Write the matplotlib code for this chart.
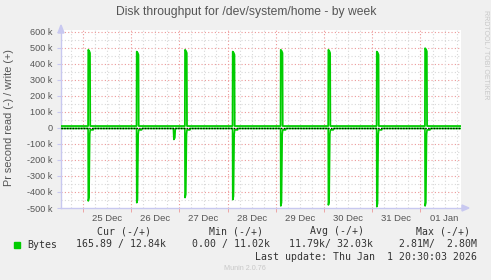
import numpy as np
import matplotlib
matplotlib.use("Agg")
import matplotlib.pyplot as plt
from matplotlib.patches import Polygon, Rectangle

plt.rcParams["font.family"] = ["Liberation Sans", "DejaVu Sans"]

# days counted from 24 Dec 00:00, values in k bytes/s
day_ticks = [1.5, 2.5, 3.5, 4.5, 5.5, 6.5, 7.5, 8.5]
day_labels = ["25 Dec", "26 Dec", "27 Dec", "28 Dec", "29 Dec", "30 Dec", "31 Dec", "01 Jan"]
y_ticks = [-500, -400, -300, -200, -100, 0, 100, 200, 300, 400, 500, 600]
y_labels = ["-500 k", "-400 k", "-300 k", "-200 k", "-100 k", "0",
            "100 k", "200 k", "300 k", "400 k", "500 k", "600 k"]

# nightly backup spikes
spike_t = [1.110, 2.115, 3.117, 4.106, 5.102, 6.090, 7.094, 8.096]
write_peak = [488, 477, 488, 477, 488, 488, 477, 498]
read_peak = [456, 467, 435, 448, 487, 481, 492, 487]
write_base = 12
read_base = 3
read_after = 12
blip_t = [2.885]
blip_v = [72]

legend_rows = [
    ("Cur (-/+)", "165.89 / 12.84k"),
    ("Min (-/+)", "0.00 / 11.02k"),
    ("Avg (-/+)", "11.79k/ 32.03k"),
    ("Max (-/+)", "2.81M/  2.80M"),
]

x0, x1 = 0.544, 8.84
green = "#00CC00"

# build the two lines
wt, wv = [x0], [write_base]
rt, rv = [x0], [read_base]
spikes = sorted(list(zip(spike_t, write_peak, read_peak)) + [(t, None, v) for t, v in zip(blip_t, blip_v)])
for t, wp, rp in spikes:
    if wp is not None:
        wt += [t - 0.004, t, t + 0.02, t + 0.035, t + 0.04]
        wv += [write_base, wp, wp - 8, wp - 20, write_base]
        rt += [t - 0.004, t, t + 0.015, t + 0.03, t + 0.04, t + 0.1, t + 0.11]
        rv += [read_base, rp, rp - 20, 40, read_after, read_after, read_base]
    else:
        rt += [t - 0.01, t, t + 0.02, t + 0.03]
        rv += [read_base, rp, rp - 10, read_base]
wt.append(x1); wv.append(write_base)
rt.append(x1); rv.append(read_base)

W, H = 491, 280
fig = plt.figure(figsize=(W / 100, H / 100), dpi=100, facecolor="#F0F0F0")
ax = fig.add_axes([61 / W, 1 - 208 / H, 400 / W, 178 / H])
ax.set_facecolor("white")
ax.set_xlim(x0, x1)
ax.set_ylim(-500, 612)

# grid
for v in np.arange(-450, 601, 50):
    major = v % 100 == 0
    ax.axhline(v, color="#EC9898" if major else "#D8D8D8", lw=0.8,
               ls=(0, (1, 2)), zorder=1)
for d in np.arange(0.75, 8.84, 0.25):
    major = abs(d - round(d)) < 1e-6
    ax.axvline(d, color="#EC9898" if major else "#D8D8D8", lw=0.8,
               ls=(0, (1, 2)), zorder=1)

ax.plot(wt, wv, color=green, lw=1.3, zorder=3)
ax.plot(rt, [-v for v in rv], color=green, lw=1.2, zorder=3)
ax.axhline(0, color="black", lw=1.0, ls=(0, (1, 1)), zorder=4)

for s in ["top", "right"]:
    ax.spines[s].set_visible(False)
for s in ["left", "bottom"]:
    ax.spines[s].set_color("#C8C8F0")
    ax.spines[s].set_linewidth(1.0)

ax.set_xticks(day_ticks)
ax.set_xticklabels(day_labels)
ax.set_yticks(y_ticks)
ax.set_yticklabels(y_labels)
ax.tick_params(axis="x", length=0, labelsize=6.8, labelcolor="#555555", pad=4)
ax.tick_params(axis="y", length=3, color="#C8C8F0", labelsize=6.6, labelcolor="#555555", pad=3)
ax.set_xticks(np.arange(1, 9), minor=True)
ax.tick_params(axis="x", which="minor", length=3, color="#EC9898")

# axis arrows
fig.patches.append(Polygon([[58 / W, 1 - 33 / H], [64 / W, 1 - 33 / H], [61 / W, 1 - 25 / H]],
                           closed=True, transform=fig.transFigure, color="#C8C8F0"))
fig.patches.append(Polygon([[462 / W, 1 - 205 / H], [462 / W, 1 - 211 / H], [469 / W, 1 - 208 / H]],
                           closed=True, transform=fig.transFigure, color="#C8C8F0"))

fig.text(246 / W, 1 - 12 / H, "Disk throughput for /dev/system/home - by week",
         ha="center", va="center", fontsize=8.7, color="#555555")
fig.text(9 / W, 1 - 118 / H, "Pr second read (-) / write (+)", rotation=90,
         ha="center", va="center", fontsize=7.8, color="#555555")
fig.text(485 / W, 1 - 55 / H, "RRDTOOL / TOBI OETIKER", rotation=270,
         ha="center", va="center", fontsize=5.0, color="#C8C8C8")

mono = "DejaVu Sans Mono"
head_x = [124, 236, 337, 443]
val_right = [166, 270, 373, 477]
for (head, val), hx, vx in zip(legend_rows, head_x, val_right):
    fig.text(hx / W, 1 - 231 / H, head, ha="center", va="center", family=mono,
             fontsize=7.1, color="#333333")
    fig.text(vx / W, 1 - 244.5 / H, val, ha="right", va="center", family=mono,
             fontsize=7.1, color="#333333")
fig.text(27 / W, 1 - 244.5 / H, "Bytes", ha="left", va="center", family=mono,
         fontsize=7.1, color="#333333")
fig.patches.append(Rectangle((14 / W, 1 - 248 / H), 6 / W, 6 / H,
                             transform=fig.transFigure, color=green))
fig.text(477 / W, 1 - 256.5 / H, "Last update: Thu Jan  1 20:30:03 2026", ha="right",
         va="center", family=mono, fontsize=7.1, color="#333333")
fig.text(245 / W, 1 - 268 / H, "Munin 2.0.76", ha="center", va="center",
         fontsize=5.2, color="#C8C8C8")

fig.savefig("out.png", dpi=100, facecolor=fig.get_facecolor())
